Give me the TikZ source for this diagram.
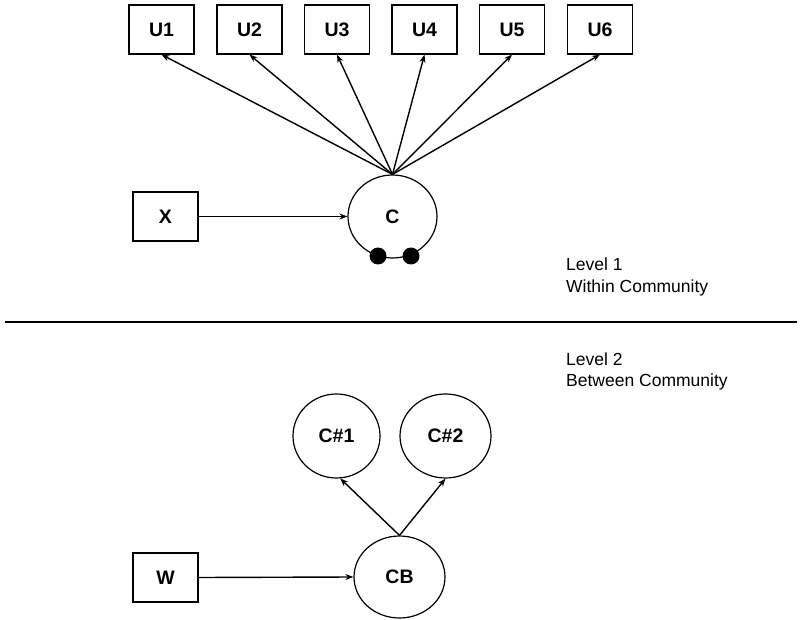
\documentclass[tikz,border=0pt]{standalone}
\usepackage{fontspec}
\setmainfont{Liberation Sans}
\usetikzlibrary{shapes.geometric,arrows.meta}
\begin{document}
\begin{tikzpicture}[x=1pt,y=-1pt,
  box/.style={draw,line width=1.2pt,rectangle,minimum width=65pt,minimum height=49pt,inner sep=0pt,font=\fontsize{19.5}{22}\bfseries\selectfont},
  lat/.style={draw,line width=1.2pt,ellipse,inner sep=0pt,font=\fontsize{19.5}{22}\bfseries\selectfont},
  arr/.style={line width=1.4pt,-{Stealth[length=8pt,width=6pt]}},
  lbl/.style={anchor=base west,inner sep=0pt,font=\fontsize{17.5}{21}\selectfont},
  dot/.style={circle,fill=black,minimum size=17pt,inner sep=0pt}]
\useasboundingbox (0,0) rectangle (800,620);
\fill[white] (0,0) rectangle (800,620);
% Level 1
\node[box] (U1) at (161.5,29.5) {U1};
\node[box] (U2) at (249.5,29.5) {U2};
\node[box] (U3) at (337,29.5) {U3};
\node[box] (U4) at (424.5,29.5) {U4};
\node[box] (U5) at (512,29.5) {U5};
\node[box] (U6) at (600,29.5) {U6};
\node[lat,minimum width=89pt,minimum height=83pt] (C) at (392.5,216.5) {C};
\node[box] (X) at (165.5,216.5) {X};
\node[dot] (d1) at (378,256) {};
\node[dot] (d2) at (411,256) {};
\foreach \u in {U1,U2,U3,U4,U5,U6} \draw[arr] (C.north) -- (\u.south);
\draw[arr] (X.east) -- (C.west);
\node[lbl] (l1a) at (566,271) {Level 1};
\node[lbl] (l1b) at (566,292) {Within Community};
% separator
\coordinate (SL) at (5,322);
\coordinate (SR) at (797,322);
\draw[line width=1.4pt] (SL) -- (SR);
% Level 2
\node[lbl] (l2a) at (566,365) {Level 2};
\node[lbl] (l2b) at (566,386) {Between Community};
\node[lat,minimum width=87pt,minimum height=84pt] (C1) at (336.5,436) {C\#1};
\node[lat,minimum width=91pt,minimum height=84pt] (C2) at (445.5,436) {C\#2};
\node[lat,minimum width=91pt,minimum height=82pt] (CB) at (399.5,577) {CB};
\node[box] (W) at (165.5,577.5) {W};
\draw[arr] (CB.north) -- (C1.-85);
\draw[arr] (CB.north) -- (C2.south);
\draw[arr] (W.east) -- (CB.west);
\end{tikzpicture}
\end{document}
